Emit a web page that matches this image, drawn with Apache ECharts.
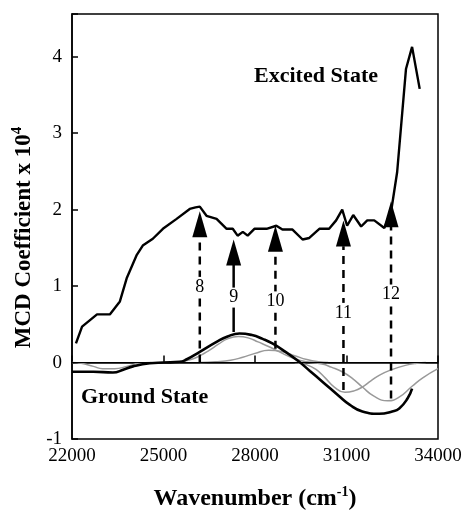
<!DOCTYPE html>
<html>
<head>
<meta charset="utf-8">
<script src="https://cdn.jsdelivr.net/npm/echarts@6/dist/echarts.min.js"></script>
<style>
  html, body { margin: 0; padding: 0; background: #fff; }
  #main { width: 463px; height: 512px; }
</style>
</head>
<body>
<div id="main"></div>
<script>
// excited state MCD
var exX = [22130, 22330, 22820, 23240, 23570, 23800, 24125, 24320, 24650, 24980, 25430, 25860, 26050, 26190, 26410, 26740, 27070, 27270, 27430, 27600, 27760, 27980, 28380, 28700, 28900, 29230, 29560, 29780, 30110, 30430, 30660, 30860, 31020, 31220, 31480, 31680, 31910, 32240, 32460, 32660, 32950, 33150, 33400];
var exY = [0.25, 0.47, 0.63, 0.63, 0.8, 1.11, 1.41, 1.53, 1.62, 1.75, 1.88, 2.01, 2.03, 2.04, 1.92, 1.88, 1.75, 1.75, 1.66, 1.71, 1.66, 1.75, 1.75, 1.79, 1.74, 1.74, 1.61, 1.63, 1.75, 1.75, 1.86, 2.0, 1.79, 1.93, 1.78, 1.86, 1.86, 1.76, 1.97, 2.49, 3.84, 4.13, 3.58];

// ground state MCD
var gsX = [22000, 22700, 23340, 23700, 24000, 24550, 25000, 25530, 25750, 26190, 26740, 27100, 27490, 27900, 28250, 28570, 29000, 29450, 29800, 30210, 30760, 31100, 31520, 32070, 32500, 32730, 33000, 33150];
var gsY = [-0.12, -0.12, -0.13, -0.09, -0.05, -0.01, 0, 0.01, 0.04, 0.14, 0.27, 0.34, 0.38, 0.36, 0.31, 0.25, 0.14, 0.01, -0.11, -0.25, -0.44, -0.55, -0.64, -0.67, -0.64, -0.6, -0.47, -0.34];

// gaussian components (grey)
var g0X = [22000, 22300, 22700, 23000, 23400, 23800, 24200, 24600];
var g0Y = [0, -0.01, -0.05, -0.08, -0.08, -0.05, -0.01, 0];
var g9X = [25000, 25500, 25900, 26200, 26500, 26800, 27100, 27450, 27800, 28100, 28500, 28900, 29300, 29700, 30000];
var g9Y = [0, 0.01, 0.04, 0.09, 0.16, 0.24, 0.31, 0.34, 0.32, 0.27, 0.2, 0.12, 0.05, 0.01, 0];
var g10X = [26200, 26700, 27200, 27600, 28000, 28450, 28900, 29300, 29700, 30100, 30400];
var g10Y = [0, 0.01, 0.03, 0.07, 0.12, 0.16, 0.14, 0.09, 0.04, 0.01, 0];
var g11X = [29300, 29700, 30000, 30300, 30600, 30950, 31250, 31520, 31800, 32100, 32500, 32900, 33300, 33600];
var g11Y = [0, -0.03, -0.09, -0.2, -0.32, -0.39, -0.37, -0.32, -0.24, -0.16, -0.09, -0.04, -0.01, 0];
var g12X = [29800, 30200, 30500, 30860, 31200, 31520, 31900, 32350, 32700, 33150, 33500, 34000];
var g12Y = [0, -0.02, -0.06, -0.12, -0.21, -0.32, -0.44, -0.5, -0.46, -0.31, -0.2, -0.08];

// arrows (transition number, x, bottom, head base, head tip, label y)
var arrowNames = ['8', '9', '10', '11', '12'];
var arrowX = [26190, 27300, 28670, 30900, 32460];
var arrowBottom = [0, 0.4, 0.18, -0.36, -0.47];
var arrowBase = [1.65, 1.3, 1.46, 1.52, 1.78];
var arrowTip = [1.97, 1.58, 1.78, 1.86, 2.1];
var labelY = [0.99, 0.85, 0.8, 0.65, 0.89];
var arrowSolid = [false, true, false, false, false];

function pairs(xs, ys) {
    var out = [];
    for (var i = 0; i < xs.length; i++) out.push([xs[i], ys[i]]);
    return out;
}

var serif = 'Liberation Serif';
var series = [];

// grey components
[[g0X, g0Y], [g9X, g9Y], [g10X, g10Y], [g11X, g11Y], [g12X, g12Y]].forEach(function (g) {
    series.push({
        type: 'line', data: pairs(g[0], g[1]), smooth: true, symbol: 'none',
        lineStyle: { color: '#999', width: 1.5 }, silent: true
    });
});

// zero line
series.push({
    type: 'line', data: [], symbol: 'none',
    markLine: {
        silent: true, symbol: 'none', label: { show: false },
        lineStyle: { color: '#000', width: 1.2, type: 'solid' },
        data: [{ yAxis: 0 }]
    }
});

// arrow shafts
for (var i = 0; i < arrowX.length; i++) {
    series.push({
        type: 'line', data: [[arrowX[i], arrowBottom[i]], [arrowX[i], arrowBase[i]]],
        symbol: 'none', z: 3,
        lineStyle: { color: '#000', width: 2.5, type: arrowSolid[i] ? 'solid' : [8, 6] }
    });
}

// arrow heads
var heads = [];
for (var i = 0; i < arrowX.length; i++) {
    heads.push([arrowX[i], (arrowBase[i] + arrowTip[i]) / 2]);
}
series.push({
    type: 'scatter', data: heads, symbol: 'triangle', symbolSize: [15, 26], z: 4,
    itemStyle: { color: '#000', opacity: 1 }
});

// arrow labels
var labs = [];
for (var i = 0; i < arrowX.length; i++) {
    labs.push({ value: [arrowX[i], labelY[i]], name: arrowNames[i] });
}
series.push({
    type: 'scatter', data: labs, symbolSize: 1, z: 5,
    itemStyle: { color: '#fff', opacity: 1 },
    label: {
        show: true, position: 'inside', formatter: '{b}',
        fontFamily: serif, fontSize: 18, color: '#000',
        backgroundColor: '#fff', padding: [1, 0]
    }
});

// excited & ground curves
series.push({
    type: 'line', data: pairs(exX, exY), symbol: 'none', z: 6,
    lineStyle: { color: '#000', width: 2.4 }
});
series.push({
    type: 'line', data: pairs(gsX, gsY), smooth: true, symbol: 'none', z: 6,
    lineStyle: { color: '#000', width: 2.6 }
});

var myChart = echarts.init(document.getElementById('main'));
var option = {
    backgroundColor: '#fff',
    animation: false,
    grid: {
        left: 72, right: 25, top: 14, bottom: 73, outerBoundsMode: 'none', containLabel: false,
        show: true, borderColor: '#000', borderWidth: 1.5
    },
    xAxis: {
        type: 'value', min: 22000, max: 34000, interval: 3000,
        name: '{a|Wavenumber (cm}{s|-1}{a|)}', nameLocation: 'middle', nameGap: 46,
        nameTextStyle: {
            rich: {
                a: { fontFamily: serif, fontWeight: 'bold', fontSize: 24, color: '#000' },
                s: { fontFamily: serif, fontWeight: 'bold', fontSize: 14, color: '#000', verticalAlign: 'top', padding: [0, 0, 13, 0] }
            }
        },
        axisLine: { lineStyle: { color: '#000', width: 1.5 } },
        axisTick: { inside: true, length: 7, lineStyle: { color: '#000', width: 1.5 } },
        axisLabel: {
            fontFamily: serif, fontSize: 19, color: '#000', margin: 8,
            formatter: function (v) { return String(v); }
        },
        splitLine: { show: false }
    },
    yAxis: {
        type: 'value', min: -1, max: 4.56, interval: 1,
        name: '{a|MCD Coefficient x 10}{s|4}', nameLocation: 'middle', nameGap: 34, nameRotate: 90,
        nameTextStyle: {
            padding: [0, 22, 0, 0],
            rich: {
                a: { fontFamily: serif, fontWeight: 'bold', fontSize: 23, color: '#000' },
                s: { fontFamily: serif, fontWeight: 'bold', fontSize: 15, color: '#000', verticalAlign: 'top', padding: [0, 0, 13, 0] }
            }
        },
        axisLine: { lineStyle: { color: '#000', width: 1.5 } },
        axisTick: { inside: true, length: 6, lineStyle: { color: '#000', width: 1.5 } },
        axisLabel: {
            fontFamily: serif, fontSize: 19, color: '#000', margin: 10,
            formatter: function (v) { return Math.abs(v - Math.round(v)) < 1e-6 ? String(Math.round(v)) : ''; }
        },
        splitLine: { show: false }
    },
    graphic: [
        { type: 'text', left: 254, top: 65, style: { text: 'Excited State', fontFamily: serif, fontWeight: 'bold', fontSize: 22, fill: '#000' } },
        { type: 'text', left: 81, top: 386, style: { text: 'Ground State', fontFamily: serif, fontWeight: 'bold', fontSize: 22, fill: '#000' } }
    ],
    series: series
};
myChart.setOption(option);
</script>
</body>
</html>
